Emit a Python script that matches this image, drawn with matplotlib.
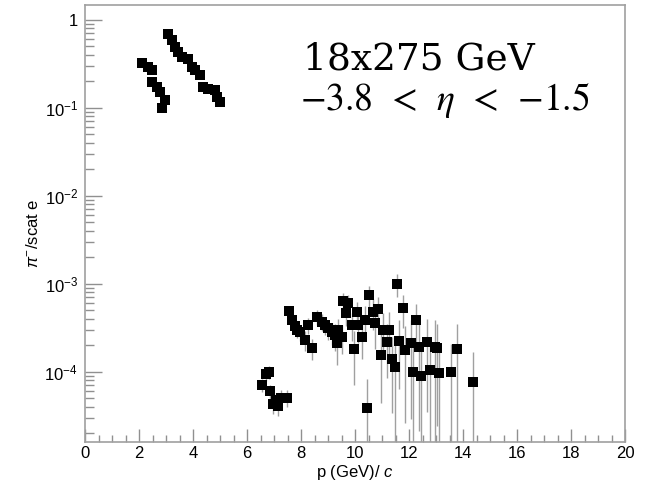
import matplotlib
matplotlib.use('Agg')
import matplotlib.pyplot as plt
from matplotlib.ticker import FixedLocator, FixedFormatter, MultipleLocator, LogLocator, NullFormatter
import numpy as np

plt.rcParams['font.family'] = ['Liberation Sans', 'DejaVu Sans']
plt.rcParams['mathtext.fontset'] = 'custom'
plt.rcParams['mathtext.rm'] = 'Liberation Sans'
plt.rcParams['mathtext.it'] = 'Liberation Sans:italic'
plt.rcParams['mathtext.bf'] = 'Liberation Sans:bold'

# momentum bins (GeV/c)
p_vals = [
    2.10, 2.34, 2.47, 2.47, 2.66, 2.78, 2.96, 2.84,
    3.09, 3.21, 3.33, 3.46, 3.58, 3.83, 3.95, 4.07, 4.26, 4.38, 4.57, 4.81, 4.88, 5.00,
    6.56, 6.70, 6.81, 6.85, 6.96, 7.07, 7.15, 7.26, 7.48,
    7.56, 7.65, 7.78, 7.86, 7.96, 8.15, 8.27, 8.40, 8.58, 8.77, 8.90, 9.01, 9.14, 9.26,
    9.38, 9.51, 9.32, 9.57, 9.75, 9.67, 10.06, 9.88, 10.12, 10.25, 9.96, 10.37, 10.50,
    10.43, 11.57, 10.68, 10.87, 11.76, 10.74, 11.05, 11.27, 11.17, 10.96, 11.37, 11.48,
    11.64, 11.85, 12.26, 12.07, 12.38, 12.66, 12.96, 13.04, 13.76, 12.16, 12.46, 12.77,
    13.12, 13.54, 14.38,
]

# pi- / scattered electron ratio
ratio_vals = [
    0.318, 0.291, 0.267, 0.196, 0.172, 0.151, 0.122, 0.098,
    0.697, 0.585, 0.491, 0.431, 0.378, 0.362, 0.291, 0.267, 0.234, 0.172, 0.165, 0.158, 0.133, 0.116,
    7.0e-5, 9.4e-5, 9.9e-5, 6.0e-5, 4.3e-5, 4.7e-5, 4.1e-5, 5.0e-5, 5.0e-5,
    4.9e-4, 3.9e-4, 3.3e-4, 3.0e-4, 2.8e-4, 2.3e-4, 3.4e-4, 1.84e-4, 4.2e-4, 3.7e-4, 3.4e-4, 3.1e-4, 2.8e-4, 2.6e-4,
    3.0e-4, 2.5e-4, 2.1e-4, 6.4e-4, 6.0e-4, 4.6e-4, 4.7e-4, 3.4e-4, 3.4e-4, 2.5e-4, 1.8e-4, 3.9e-4, 7.4e-4,
    3.8e-5, 1.0e-3, 4.8e-4, 5.1e-4, 5.3e-4, 3.6e-4, 3.0e-4, 3.0e-4, 2.15e-4, 1.54e-4, 1.39e-4, 1.12e-4,
    2.24e-4, 1.76e-4, 3.85e-4, 2.09e-4, 1.91e-4, 2.15e-4, 1.88e-4, 1.84e-4, 1.79e-4, 9.8e-5, 8.9e-5, 1.04e-4,
    9.5e-5, 9.8e-5, 7.7e-5,
]

ratio_err = [
    0.004, 0.004, 0.004, 0.003, 0.003, 0.003, 0.003, 0.003,
    0.008, 0.007, 0.006, 0.006, 0.005, 0.005, 0.005, 0.005, 0.004, 0.004, 0.004, 0.004, 0.004, 0.004,
    1.2e-5, 1.5e-5, 1.6e-5, 1.1e-5, 1.0e-5, 1.0e-5, 1.0e-5, 1.1e-5, 1.1e-5,
    6e-5, 6e-5, 6e-5, 6e-5, 6e-5, 6e-5, 7e-5, 5e-5, 8e-5, 8e-5, 8e-5, 8e-5, 8e-5, 9e-5,
    1.0e-4, 9e-5, 9e-5, 1.4e-4, 1.4e-4, 1.3e-4, 1.4e-4, 1.2e-4, 1.3e-4, 1.1e-4, 1.1e-4, 1.6e-4, 2.0e-4,
    4.5e-5, 3.0e-4, 1.8e-4, 2.0e-4, 2.2e-4, 1.8e-4, 1.6e-4, 1.7e-4, 1.3e-4, 1.1e-4, 1.05e-4, 1.0e-4,
    1.6e-4, 1.5e-4, 2.0e-4, 1.8e-4, 1.7e-4, 1.8e-4, 2.0e-4, 1.6e-4, 1.7e-4, 1.1e-4, 1.0e-4, 1.15e-4,
    1.05e-4, 1.1e-4, 9e-5,
]

x_ticks = [0, 2, 4, 6, 8, 10, 12, 14, 16, 18, 20]
y_ticks = [1, 1e-1, 1e-2, 1e-3, 1e-4]
y_tick_labels = ['1', r'$10^{-1}$', r'$10^{-2}$', r'$10^{-3}$', r'$10^{-4}$']

W, H = 653, 483
fig = plt.figure(figsize=(W / 100, H / 100), dpi=100)
ax = fig.add_axes([85 / W, 1 - 442 / H, 540 / W, 437 / H])

p = np.array(p_vals)
r = np.array(ratio_vals)
e = np.array(ratio_err)
err_lo = np.minimum(e, r - 1e-8)

ax.errorbar(p, r, yerr=[err_lo, e], fmt='none', ecolor='#a0a0a0', elinewidth=1.0, zorder=2)
ax.plot(p, r, 's', color='black', markersize=7, markeredgewidth=0, zorder=3)

ax.set_yscale('log')
ax.set_xlim(0, 20)
ax.set_ylim(1.58e-5, 1.47)

ax.xaxis.set_major_locator(FixedLocator(x_ticks))
ax.xaxis.set_minor_locator(MultipleLocator(0.5))
ax.yaxis.set_major_locator(FixedLocator(y_ticks))
ax.yaxis.set_major_formatter(FixedFormatter(y_tick_labels))
ax.yaxis.set_minor_locator(LogLocator(base=10, subs=np.arange(2, 10)))
ax.yaxis.set_minor_formatter(NullFormatter())

ax.tick_params(axis='both', which='both', direction='in', color='#909090', width=1,
               top=False, right=False, labelsize=12, labelcolor='black')
ax.tick_params(axis='x', which='major', length=9.5, pad=3)
ax.tick_params(axis='x', which='minor', length=4.7)
ax.tick_params(axis='y', which='major', length=12, pad=5)
ax.tick_params(axis='y', which='minor', length=6.5)

for s in ax.spines.values():
    s.set_color('#a0a0a0')
    s.set_linewidth(1.2)

fig.text(355 / W, 1 - 472 / H, r'p (GeV)/ $\mathit{c}$', ha='center', va='center', fontsize=12)
fig.text(33 / W, 1 - 233 / H, r'$\pi^{-}$/scat e', ha='center', va='center', rotation=90, fontsize=12)

fig.text(303 / W, 1 - 70 / H, '18x275 GeV', ha='left', va='baseline',
         fontsize=27, family='DejaVu Serif')
fig.text(300 / W, 1 - 110 / H, r'$-3.8\:\;<\:\;\eta\:\;<\:\;{-1.5}$', ha='left', va='baseline',
         fontsize=27, math_fontfamily='stix')

fig.savefig('out.png', dpi=100)
